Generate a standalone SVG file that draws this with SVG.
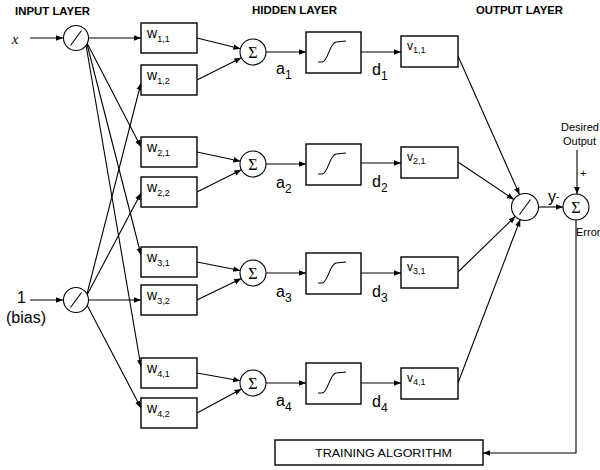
<svg xmlns="http://www.w3.org/2000/svg" xmlns:xlink="http://www.w3.org/1999/xlink" width="600" height="470" viewBox="0 0 600 470">
<style>
.bg{fill:#fff}
.box{fill:#fff;stroke:#000;stroke-width:1.4}
.node{fill:#fff;stroke:#000;stroke-width:1.1}
.ln{fill:none;stroke:#000;stroke-width:1.1}
.con{fill:none;stroke:#000;stroke-width:1.1;marker-end:url(#ah)}
.title{font-family:"Liberation Sans",Arial,sans-serif;font-size:10px;font-weight:bold}
.lbl{font-family:"Liberation Sans",Arial,sans-serif;font-size:14px}
.vl{font-family:"Liberation Sans",Arial,sans-serif;font-size:12px}
.sub{font-size:9px}
.sig{font-family:"Liberation Serif","Times New Roman",serif;font-size:16px;text-anchor:middle}
.big{font-family:"Liberation Sans",Arial,sans-serif;font-size:16px}
.small{font-family:"Liberation Sans",Arial,sans-serif;font-size:11px}
</style>
<defs>
<marker id="ah" viewBox="0 0 10 10" refX="10" refY="5" markerWidth="7" markerHeight="7" orient="auto" markerUnits="userSpaceOnUse">
<path d="M0,1 L10,5 L0,9 z" fill="#000"/>
</marker>
<path id="scurve" d="M -15.5 9.5 L -11.5 9.5 C -5.5 9.5 -4.5 -8.5 2.5 -10.5 L 12.5 -11.5" fill="none" stroke="#000" stroke-width="1.1"/>
</defs>
<rect class="bg" x="0" y="0" width="600" height="470"/>

<text class="title" x="15" y="15" textLength="75" lengthAdjust="spacingAndGlyphs">INPUT LAYER</text>
<text class="title" x="252" y="14" textLength="85" lengthAdjust="spacingAndGlyphs">HIDDEN LAYER</text>
<text class="title" x="476" y="14" textLength="87" lengthAdjust="spacingAndGlyphs">OUTPUT LAYER</text>

<g id="connectors">
<line class="con" x1="30" y1="38" x2="63" y2="38"/>
<line class="con" x1="30" y1="300" x2="63" y2="300"/>
<line class="con" x1="88.5" y1="38" x2="141" y2="38"/>
<line class="con" x1="87" y1="43" x2="141" y2="147"/>
<line class="con" x1="87" y1="44" x2="141" y2="255"/>
<line class="con" x1="86" y1="45" x2="141" y2="367"/>
<line class="con" x1="87" y1="294" x2="141" y2="83"/>
<line class="con" x1="87" y1="295" x2="141" y2="193"/>
<line class="con" x1="88.5" y1="300" x2="141" y2="300"/>
<line class="con" x1="87" y1="305" x2="141" y2="408"/>

<line class="con" x1="197" y1="38" x2="240.4" y2="48.8"/>
<line class="con" x1="197" y1="80" x2="241.4" y2="57.8"/>
<line class="con" x1="197" y1="152" x2="240.3" y2="161.3"/>
<line class="con" x1="197" y1="192" x2="241.4" y2="169.8"/>
<line class="con" x1="197" y1="262" x2="240.2" y2="270.5"/>
<line class="con" x1="197" y1="300" x2="241.3" y2="278.6"/>
<line class="con" x1="197" y1="373" x2="240.2" y2="380.7"/>
<line class="con" x1="197" y1="413" x2="241.5" y2="389.1"/>

<line class="con" x1="266" y1="52" x2="306" y2="52"/>
<line class="con" x1="266" y1="164" x2="306" y2="164"/>
<line class="con" x1="266" y1="273" x2="306" y2="273"/>
<line class="con" x1="266" y1="383" x2="306" y2="383"/>

<line class="con" x1="361" y1="52" x2="401" y2="52"/>
<line class="con" x1="361" y1="163" x2="401" y2="163"/>
<line class="con" x1="361" y1="273" x2="401" y2="273"/>
<line class="con" x1="361" y1="383" x2="401" y2="383"/>

<line class="con" x1="458" y1="56" x2="519.5" y2="194.6"/>
<line class="con" x1="458" y1="162" x2="513.8" y2="199.5"/>
<line class="con" x1="458" y1="272" x2="515.3" y2="216.4"/>
<line class="con" x1="458" y1="383" x2="520.2" y2="219.6"/>

<line class="con" x1="538.5" y1="207" x2="563" y2="207"/>
<line class="con" x1="577" y1="150" x2="577" y2="194"/>
<polyline class="con" points="576,220 576,453 483,453"/>
</g>

<g id="in-x">
<circle class="node" cx="76" cy="38" r="12.5"/>
<line class="ln" x1="70.5" y1="45.5" x2="81.5" y2="30.5"/>
<text x="12" y="44" font-family="'Liberation Serif','Times New Roman',serif" font-style="italic" font-size="14">x</text>
</g>
<g id="in-bias">
<circle class="node" cx="76" cy="300" r="12.5"/>
<line class="ln" x1="70.5" y1="307.5" x2="81.5" y2="292.5"/>
<text class="big" x="17" y="303">1</text>
<text class="big" x="6" y="323" font-size="15">(bias)</text>
</g>

<g id="w11"><rect class="box" x="141" y="23" width="56" height="30"/><text class="lbl" x="147" y="38">w<tspan class="sub" dy="4">1,1</tspan></text></g>
<g id="w12"><rect class="box" x="141" y="65" width="56" height="30"/><text class="lbl" x="147" y="80">w<tspan class="sub" dy="4">1,2</tspan></text></g>
<g id="w21"><rect class="box" x="141" y="137" width="56" height="30"/><text class="lbl" x="147" y="152">w<tspan class="sub" dy="4">2,1</tspan></text></g>
<g id="w22"><rect class="box" x="141" y="177" width="56" height="30"/><text class="lbl" x="147" y="192">w<tspan class="sub" dy="4">2,2</tspan></text></g>
<g id="w31"><rect class="box" x="141" y="247" width="56" height="30"/><text class="lbl" x="147" y="262">w<tspan class="sub" dy="4">3,1</tspan></text></g>
<g id="w32"><rect class="box" x="141" y="285" width="56" height="30"/><text class="lbl" x="147" y="300">w<tspan class="sub" dy="4">3,2</tspan></text></g>
<g id="w41"><rect class="box" x="141" y="358" width="56" height="30"/><text class="lbl" x="147" y="373">w<tspan class="sub" dy="4">4,1</tspan></text></g>
<g id="w42"><rect class="box" x="141" y="398" width="56" height="30"/><text class="lbl" x="147" y="413">w<tspan class="sub" dy="4">4,2</tspan></text></g>

<g id="sum1"><circle class="node" cx="253" cy="52" r="13"/><text class="sig" x="253" y="58">Σ</text></g>
<g id="sum2"><circle class="node" cx="253" cy="164" r="13"/><text class="sig" x="253" y="170">Σ</text></g>
<g id="sum3"><circle class="node" cx="253" cy="273" r="13"/><text class="sig" x="253" y="279">Σ</text></g>
<g id="sum4"><circle class="node" cx="253" cy="383" r="13"/><text class="sig" x="253" y="389">Σ</text></g>

<g id="a-labels">
<text class="big" x="276" y="74">a<tspan font-size="12" dy="5">1</tspan></text>
<text class="big" x="276" y="188">a<tspan font-size="12" dy="5">2</tspan></text>
<text class="big" x="276" y="297">a<tspan font-size="12" dy="5">3</tspan></text>
<text class="big" x="276" y="406">a<tspan font-size="12" dy="5">4</tspan></text>
</g>

<g id="act1"><rect class="box" x="306" y="32" width="55" height="41"/><use xlink:href="#scurve" x="333.5" y="52.5"/></g>
<g id="act2"><rect class="box" x="306" y="144" width="55" height="41"/><use xlink:href="#scurve" x="333.5" y="164.5"/></g>
<g id="act3"><rect class="box" x="306" y="253" width="55" height="41"/><use xlink:href="#scurve" x="333.5" y="273.5"/></g>
<g id="act4"><rect class="box" x="306" y="363" width="55" height="41"/><use xlink:href="#scurve" x="333.5" y="383.5"/></g>

<g id="d-labels">
<text class="big" x="372" y="75">d<tspan font-size="12" dy="5">1</tspan></text>
<text class="big" x="372" y="187">d<tspan font-size="12" dy="5">2</tspan></text>
<text class="big" x="372" y="297">d<tspan font-size="12" dy="5">3</tspan></text>
<text class="big" x="372" y="407">d<tspan font-size="12" dy="5">4</tspan></text>
</g>

<g id="v11"><rect class="box" x="401" y="36" width="57" height="31"/><text class="vl" x="407" y="50">v<tspan class="sub" font-size="8" dy="3">1,1</tspan></text></g>
<g id="v21"><rect class="box" x="401" y="147" width="57" height="31"/><text class="vl" x="407" y="161">v<tspan class="sub" font-size="8" dy="3">2,1</tspan></text></g>
<g id="v31"><rect class="box" x="401" y="257" width="57" height="31"/><text class="vl" x="407" y="271">v<tspan class="sub" font-size="8" dy="3">3,1</tspan></text></g>
<g id="v41"><rect class="box" x="401" y="368" width="57" height="31"/><text class="vl" x="407" y="382">v<tspan class="sub" font-size="8" dy="3">4,1</tspan></text></g>

<g id="out">
<circle class="node" cx="525" cy="207" r="13.5"/>
<line class="ln" x1="519.5" y1="214.5" x2="530.5" y2="199.5"/>
</g>
<g id="y-label"><text class="big" x="548" y="202">y<tspan font-size="10" dy="-2">-</tspan></text></g>

<g id="err-sum">
<circle class="node" cx="576" cy="207" r="13"/>
<text class="sig" x="576" y="213">Σ</text>
</g>
<g id="desired">
<text class="small" x="561" y="131">Desired</text>
<text class="small" x="563" y="145">Output</text>
<text class="small" x="580" y="177" font-size="9">+</text>
</g>
<g id="error"><text class="small" x="576" y="236" font-size="9">Error</text></g>

<g id="training">
<rect class="box" x="275" y="440" width="208" height="25"/>
<text class="small" x="315" y="457" textLength="137" lengthAdjust="spacingAndGlyphs">TRAINING ALGORITHM</text>
</g>
</svg>
